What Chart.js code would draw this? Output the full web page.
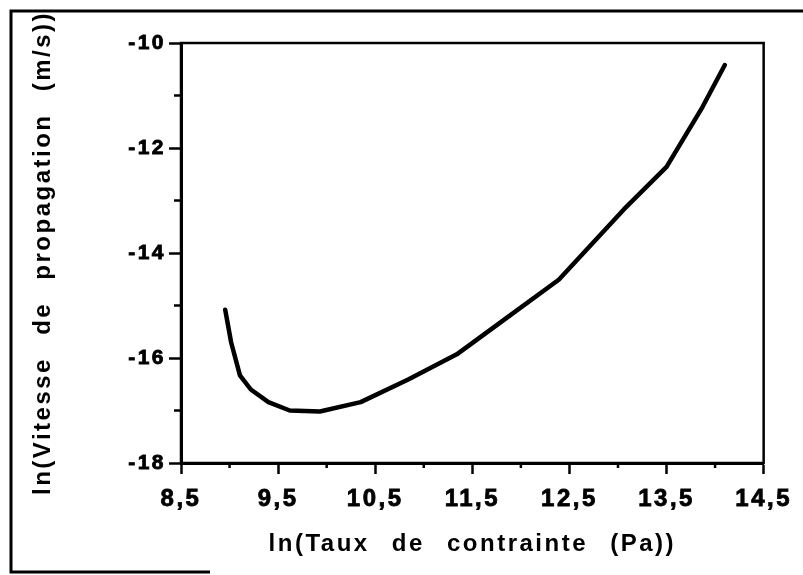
<!DOCTYPE html>
<html>
<head>
<meta charset="utf-8">
<script src="https://cdn.jsdelivr.net/npm/chart.js@4/dist/chart.umd.min.js"></script>
<style>
  html, body { margin: 0; background: #fff; }
</style>
</head>
<body>
<canvas id="courbe" width="803" height="575"></canvas>
<script>
// ln(taux de contrainte) / ln(vitesse de propagation)
const lnTaux = [8.955, 9.016, 9.107, 9.219, 9.40, 9.62, 9.93, 10.35, 10.84, 11.34, 11.85, 12.39, 13.06, 13.50, 13.87, 14.10];
const lnVitesse = [-15.08, -15.70, -16.33, -16.60, -16.84, -17.00, -17.02, -16.84, -16.41, -15.93, -15.24, -14.51, -13.17, -12.36, -11.22, -10.42];

const xMajor = [8.5, 9.5, 10.5, 11.5, 12.5, 13.5, 14.5];
const yMajor = [-18, -16, -14, -12, -10];

const police = '"Liberation Sans", Arial, Helvetica, sans-serif';

function virgule(v) {
    return v.toFixed(1).replace('.', ',');
}

// espacement des lettres comme sur la figure imprimée
function espacer(ctx) {
    ctx.letterSpacing = '2.5px';
    ctx.wordSpacing = '13px';
}
const espacement = {
    id: 'espacement',
    beforeUpdate(chart) { espacer(chart.ctx); },
    beforeDraw(chart) { espacer(chart.ctx); }
};

// cadre du tracé, petites graduations et cadre extérieur
const cadre = {
    id: 'cadre',
    afterDraw(chart) {
        const ctx = chart.ctx;
        const a = chart.chartArea;
        const sx = chart.scales.x;
        const sy = chart.scales.y;
        ctx.save();
        ctx.strokeStyle = '#000';
        ctx.lineWidth = 2.5;
        ctx.strokeRect(a.left, a.top, a.right - a.left, a.bottom - a.top);

        ctx.beginPath();
        for (let v = 9; v <= 14; v++) {
            const px = sx.getPixelForValue(v);
            ctx.moveTo(px, a.bottom);
            ctx.lineTo(px, a.bottom + 5);
        }
        for (let v = -17; v <= -11; v += 2) {
            const py = sy.getPixelForValue(v);
            ctx.moveTo(a.left, py);
            ctx.lineTo(a.left - 7, py);
        }
        ctx.stroke();

        ctx.lineWidth = 3;
        ctx.beginPath();
        ctx.moveTo(803, 11);
        ctx.lineTo(11, 11);
        ctx.lineTo(11, 572);
        ctx.lineTo(210, 572);
        ctx.stroke();
        ctx.restore();
    }
};

new Chart(document.getElementById('courbe'), {
    type: 'line',
    data: {
        datasets: [{
            data: lnTaux.map((x, i) => ({ x: x, y: lnVitesse[i] })),
            borderColor: '#000',
            borderWidth: 4.5,
            borderCapStyle: 'round',
            borderJoinStyle: 'round',
            pointRadius: 0,
            tension: 0,
            fill: false
        }]
    },
    options: {
        responsive: false,
        animation: false,
        devicePixelRatio: 1,
        layout: { padding: { top: 43, right: 30, left: 0, bottom: 0 } },
        plugins: {
            legend: { display: false },
            tooltip: { enabled: false }
        },
        scales: {
            x: {
                type: 'linear',
                min: 8.5,
                max: 14.5,
                afterFit(scale) { scale.height = 112; },
                border: { display: true, color: '#000', width: 3 },
                grid: {
                    drawOnChartArea: false,
                    drawTicks: true,
                    tickLength: 11,
                    tickWidth: 2.5,
                    tickColor: c => xMajor.includes(c.tick.value) ? '#000' : 'rgba(0,0,0,0)'
                },
                ticks: {
                    stepSize: 0.5,
                    padding: 11,
                    color: '#000',
                    textStrokeColor: '#000',
                    textStrokeWidth: 0.8,
                    font: { family: police, size: 24, weight: 'bold' },
                    maxRotation: 0,
                    autoSkip: false,
                    callback: v => xMajor.includes(v) ? virgule(v) : ''
                },
                title: {
                    display: true,
                    text: 'ln(Taux de contrainte (Pa))',
                    color: '#000',
                    font: { family: police, size: 24, weight: 'bold' },
                    padding: { top: 0, bottom: 16 }
                }
            },
            y: {
                type: 'linear',
                min: -18,
                max: -10,
                afterFit(scale) { scale.width = 181; },
                border: { display: true, color: '#000', width: 3 },
                grid: {
                    drawOnChartArea: false,
                    drawTicks: true,
                    tickLength: 12,
                    tickWidth: 2.5,
                    tickColor: c => yMajor.includes(c.tick.value) ? '#000' : 'rgba(0,0,0,0)'
                },
                ticks: {
                    stepSize: 1,
                    padding: 3,
                    color: '#000',
                    textStrokeColor: '#000',
                    textStrokeWidth: 0.8,
                    font: { family: police, size: 21, weight: 'bold' },
                    autoSkip: false,
                    callback: v => yMajor.includes(v) ? String(v) : ''
                },
                title: {
                    display: true,
                    text: 'ln(Vitesse de propagation (m/s))',
                    color: '#000',
                    font: { family: police, size: 24, weight: 'bold' },
                    padding: { top: 29, bottom: 0 }
                }
            }
        }
    },
    plugins: [espacement, cadre]
});
</script>
</body>
</html>
